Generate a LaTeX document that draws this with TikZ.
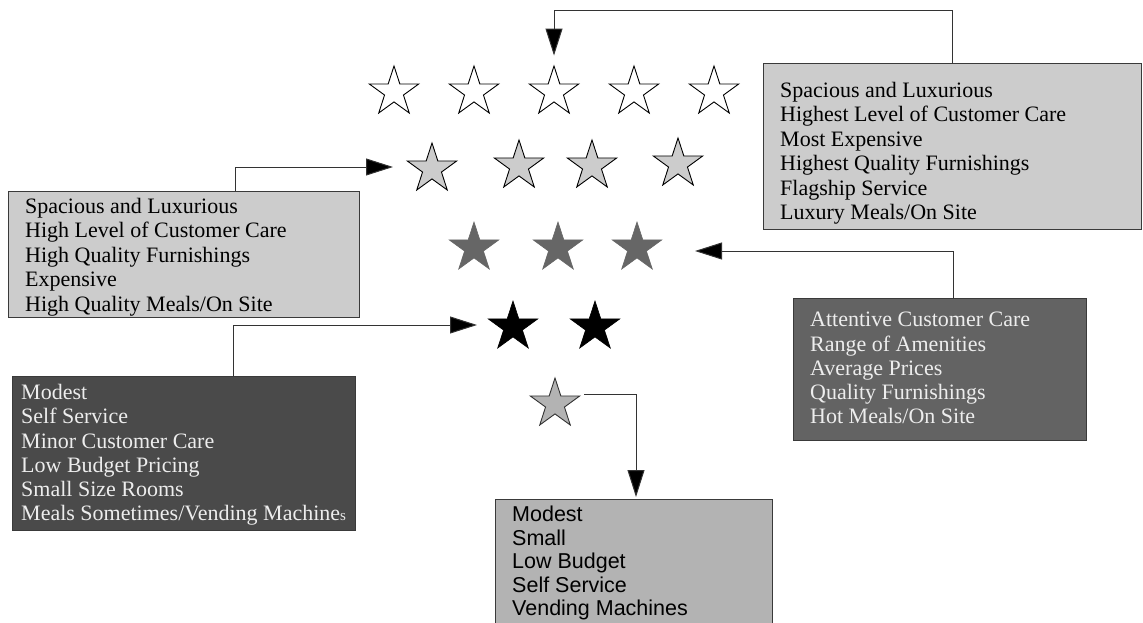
\documentclass[tikz,border=0pt]{standalone}
\usepackage{fontspec}
\setmainfont{Liberation Serif}
\newfontfamily\sansf{Liberation Sans}
\usetikzlibrary{shapes.geometric,arrows.meta}
\definecolor{paleg}{HTML}{CCCCCC}
\definecolor{midg}{HTML}{B3B3B3}
\definecolor{darkg}{HTML}{636363}
\definecolor{deepg}{HTML}{4A4A4A}
\definecolor{starg}{HTML}{666666}
\definecolor{boxline}{HTML}{3A3A3A}
\definecolor{linec}{HTML}{333333}
\begin{document}
\begin{tikzpicture}[x=1pt,y=-1pt,
  starbase/.style={star,star points=5,star point ratio=2.618,minimum size=52pt,inner sep=0pt},
  hollow/.style={starbase,draw=black,fill=white,line width=0.9pt},
  pale/.style={starbase,draw=black,fill=paleg,line width=0.9pt},
  solidg/.style={starbase,draw=starg,fill=starg,line width=0.6pt},
  solidb/.style={starbase,draw=black,fill=black,line width=0.6pt},
  lone/.style={starbase,draw=black!80,fill=midg,line width=0.9pt},
  box/.style={draw=boxline,line width=1pt,anchor=north west,inner sep=0pt},
  txt/.style={anchor=north west,align=left,inner sep=0pt,font=\fontsize{22}{24.4}\selectfont},
  conn/.style={draw=linec,line width=1pt,-{Triangle[length=27pt,width=17pt,fill=black]}}]
\clip (0,0) rectangle (1143,623);

% rows of stars, five down to one
\node[hollow] (s11) at (394,92) {};
\node[hollow] (s12) at (474,92) {};
\node[hollow] (s13) at (554,92) {};
\node[hollow] (s14) at (634,92) {};
\node[hollow] (s15) at (714,92) {};

\node[pale] (s21) at (432,169) {};
\node[pale] (s22) at (519,166) {};
\node[pale] (s23) at (592,166) {};
\node[pale] (s24) at (678,164) {};

\node[solidg] (s31) at (474,248) {};
\node[solidg] (s32) at (558,248) {};
\node[solidg] (s33) at (637,248) {};

\node[solidb] (s41) at (513,327) {};
\node[solidb] (s42) at (595,327) {};

\node[lone] (sb) at (555,404) {};

% description boxes
\node[box,fill=paleg,minimum width=378pt,minimum height=166pt] (tr) at (763,63) {};
\node[txt] (trt) at (780,82) {Spacious and Luxurious\\Highest Level of Customer Care\\Most Expensive\\Highest Quality Furnishings\\Flagship Service\\Luxury Meals/On Site};

\node[box,fill=paleg,minimum width=351pt,minimum height=126pt] (l1) at (8,191) {};
\node[txt] (l1t) at (25,198) {Spacious and Luxurious\\High Level of Customer Care\\High Quality Furnishings\\Expensive\\High Quality Meals/On Site};

\node[box,fill=darkg,minimum width=293pt,minimum height=142pt] (r2) at (793,298) {};
\node[txt,text=white!93!black,font=\fontsize{22}{24.25}\selectfont] (r2t) at (810,312) {Attentive Customer Care\\Range of Amenities\\Average Prices\\Quality Furnishings\\Hot Meals/On Site};

\node[box,fill=deepg,minimum width=343pt,minimum height=154pt] (l2) at (12,376) {};
\node[txt,text=white!93!black,font=\fontsize{22}{24.3}\selectfont] (l2t) at (21,384) {Modest\\Self Service\\Minor Customer Care\\Low Budget Pricing\\Small Size Rooms\\Meals Sometimes/Vending Machine{\fontsize{15}{15}\selectfont s}};

\node[box,fill=midg,minimum width=277pt,minimum height=150pt] (b) at (495,499) {};
\node[txt,font=\sansf\fontsize{21.5}{23.5}\selectfont] (bt) at (512,506) {Modest\\Small\\Low Budget\\Self Service\\Vending Machines};

% connectors from each box to its row of stars
\draw[conn] (tr.north) -- ++(0,-52) -| ([yshift=9pt]s13.north);
\draw[conn] ([xshift=227pt]l1.north west) |- ([xshift=-39pt,yshift=2pt]s21.center);
\draw[conn] ([xshift=160pt]r2.north west) |- ([xshift=58pt,yshift=-3pt]s33.center);
\draw[conn] ([xshift=221pt]l2.north west) |- ([xshift=-36pt,yshift=2pt]s41.center);
\draw[conn] ([xshift=29pt,yshift=10pt]sb.center) -| ([xshift=141pt,yshift=2pt]b.north west);
\end{tikzpicture}
\end{document}
